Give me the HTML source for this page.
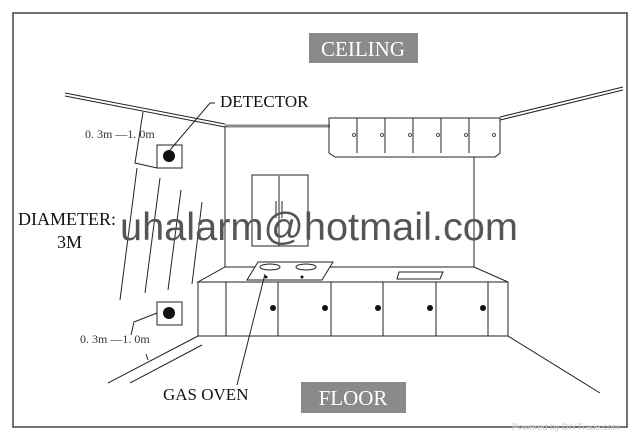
<!DOCTYPE html>
<html><head><style>
body{margin:0;background:#fff;width:640px;height:440px;overflow:hidden}
svg{position:absolute;left:0;top:0}
</style></head><body>
<svg width="640" height="440" xmlns="http://www.w3.org/2000/svg" font-family="Liberation Serif, serif">
<rect x="13" y="13" width="614" height="414" fill="none" stroke="#444" stroke-width="1.5"/>
<rect x="309" y="33" width="109" height="30" fill="#8a8a8a"/>
<text x="363" y="56" text-anchor="middle" font-size="21" fill="#fff">CEILING</text>
<rect x="301" y="382" width="105" height="31" fill="#8a8a8a"/>
<text x="353" y="405" text-anchor="middle" font-size="21" fill="#fff">FLOOR</text>
<g stroke="#222" fill="none" stroke-width="1">
<path d="M65 93L225 124M65 96L225 127"/>
<path d="M225 126L330 126" stroke="#888" stroke-width="3"/>
<path d="M500 117L623 87M500 120L623 90"/>
<path d="M329 118H500V153L495 157H335L329 153Z"/>
<path d="M357 118V153M385 118V153M413 118V153M441 118V153M469 118V153"/>
<path d="M225 126V267M474 157V267"/>
<path d="M252 175H308V246H252ZM279 176V246"/>
<path d="M276 201V218M282 201V218"/>
<path d="M225 267H474L508 282H198Z"/>
<path d="M198 282H508V336H198Z"/>
<path d="M226 282V336M278 282V336M331 282V336M383 282V336M436 282V336M488 282V336"/>
<path d="M258 262H333L322 280H247Z" fill="#fff"/>
<ellipse cx="270" cy="267" rx="10" ry="3"/><ellipse cx="306" cy="267" rx="10" ry="3"/>
<path d="M399 272H443L440 279H397Z"/>
<path d="M198 336L108 383M202 345L130 383M508 336L600 393"/>
<path d="M265 274L237 385"/>
<rect x="157" y="145" width="25" height="23"/><rect x="157" y="302" width="25" height="23"/>
<path d="M170 150L210 103H215"/>
<path d="M143 112L135 163L157 168M131 335L134 322L157 313M146 354L148 360"/>
<path d="M137 168L120 300M160 178L145 293M181 190L168 290M202 202L192 284"/>
</g>
<g fill="#111">
<circle cx="169" cy="156" r="6"/><circle cx="169" cy="313" r="6"/>
<circle cx="273" cy="308" r="3"/><circle cx="325" cy="308" r="3"/><circle cx="378" cy="308" r="3"/><circle cx="430" cy="308" r="3"/><circle cx="483" cy="308" r="3"/>
<circle cx="266" cy="277" r="1.5"/><circle cx="302" cy="277" r="1.5"/>
</g>
<g fill="#fff" stroke="#222" stroke-width="0.8">
<circle cx="354" cy="135" r="1.5"/><circle cx="382" cy="135" r="1.5"/><circle cx="410" cy="135" r="1.5"/><circle cx="438" cy="135" r="1.5"/><circle cx="466" cy="135" r="1.5"/><circle cx="494" cy="135" r="1.5"/>
</g>
<text x="220" y="107" font-size="17" fill="#111">DETECTOR</text>
<text x="85" y="138" font-size="12" fill="#333">0. 3m —1. 0m</text>
<text x="80" y="343" font-size="12" fill="#333">0. 3m —1. 0m</text>
<text x="18" y="225" font-size="18" fill="#111">DIAMETER:</text>
<text x="57" y="248" font-size="18" fill="#111">3M</text>
<text x="163" y="400" font-size="17" fill="#111">GAS OVEN</text>
<text x="120" y="240" font-size="39" textLength="398" lengthAdjust="spacingAndGlyphs" font-family="Liberation Sans, sans-serif" fill="#555">uhalarm@hotmail.com</text>
<text x="512" y="430" font-size="9" font-family="Liberation Sans, sans-serif" fill="#ccc">Powered by DIYTrade.com</text>
</svg>
</body></html>
